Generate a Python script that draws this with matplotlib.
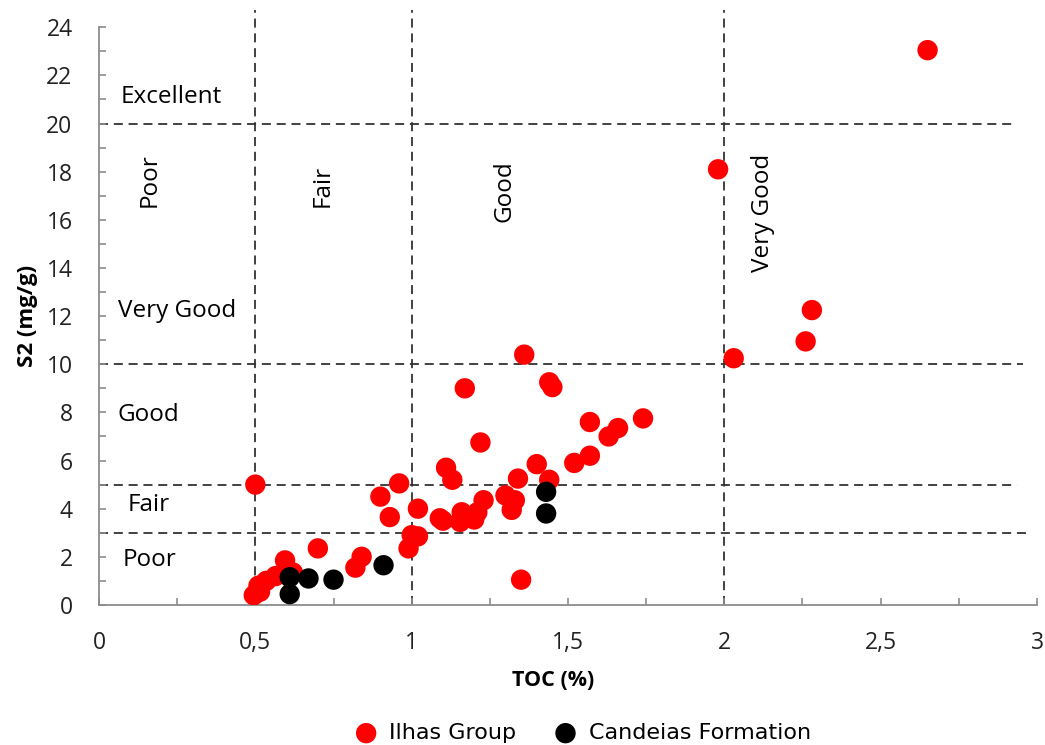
import matplotlib
matplotlib.use("Agg")
import matplotlib.pyplot as plt
from matplotlib.ticker import MultipleLocator

# ---------------- data ----------------
ilhas_toc = [2.65, 1.98, 2.28, 2.26, 2.03, 1.36, 1.17, 1.44, 1.45, 1.74,
             1.57, 1.66, 1.63, 1.22, 1.57, 1.52, 1.11, 1.40, 1.13, 1.34,
             1.44, 0.96, 0.50, 1.30, 1.33, 1.32, 1.23, 1.21, 1.20, 1.16,
             1.155, 1.09, 1.10, 0.90, 1.02, 0.93, 1.00, 1.02, 0.99, 0.70,
             0.84, 0.82, 1.35, 0.595, 0.60, 0.62, 0.565, 0.535, 0.51, 0.515,
             0.495]
ilhas_s2 = [23.05, 18.1, 12.25, 10.95, 10.25, 10.4, 9.0, 9.25, 9.05, 7.75,
            7.6, 7.35, 7.0, 6.75, 6.2, 5.9, 5.7, 5.85, 5.2, 5.25,
            5.2, 5.05, 5.0, 4.55, 4.35, 3.95, 4.35, 3.85, 3.55, 3.85,
            3.45, 3.6, 3.5, 4.5, 4.0, 3.65, 2.9, 2.85, 2.35, 2.35,
            2.0, 1.55, 1.05, 1.85, 1.5, 1.35, 1.2, 1.0, 0.8, 0.55,
            0.4]
candeias_toc = [0.61, 0.61, 0.67, 0.75, 0.91, 1.43, 1.43]
candeias_s2 = [1.15, 0.45, 1.1, 1.05, 1.65, 4.7, 3.8]

x_ticks = [0, 0.5, 1, 1.5, 2, 2.5, 3]
x_tick_labels = ["0", "0,5", "1", "1,5", "2", "2,5", "3"]
y_ticks = list(range(0, 25, 2))

toc_limits = [0.5, 1, 2]
s2_limits = [20, 10, 5, 3]
s2_limit_ends = [2.93, 2.955, 2.935, 2.975]
s2_classes = ["Excellent", "Very Good", "Good", "Fair", "Poor"]
s2_class_pos = [(0.07, 21.1), (0.06, 12.2), (0.058, 7.9), (0.09, 4.15), (0.075, 1.85)]
toc_classes = ["Poor", "Fair", "Good", "Very Good"]
toc_class_pos = [(0.163, 17.65), (0.716, 17.4), (1.298, 17.2), (2.123, 16.3)]

# ---------------- figure ----------------
W, H = 1045, 745
fig = plt.figure(figsize=(W / 100, H / 100), dpi=100)
ax = fig.add_axes([99 / W, 0.188, (1037 - 99) / W, 0.798])

LABFONT = "Open Sans"
ax.set_xlim(0, 3)
ax.set_ylim(0, 24.7)

dash = (0, (5, 3.2))
for xv in toc_limits:
    ax.plot([xv, xv], [0, 24.7], color="#333333", lw=1.3, ls=dash, zorder=1)
for yv, xe in zip(s2_limits, s2_limit_ends):
    ax.plot([0, xe], [yv, yv], color="#333333", lw=1.3, ls=dash, zorder=1)

ax.scatter(ilhas_toc, ilhas_s2, s=215, color="#ff0000", edgecolors="none",
           zorder=3, label="Ilhas Group")
ax.scatter(candeias_toc, candeias_s2, s=215, color="#000000", edgecolors="none",
           zorder=4, label="Candeias Formation")

for t, (xx, yy) in zip(s2_classes, s2_class_pos):
    ax.text(xx, yy, t, fontsize=17.5, family=LABFONT, ha="left", va="center")
for t, (xx, yy) in zip(toc_classes, toc_class_pos):
    ax.text(xx, yy, t, fontsize=17.5, family=LABFONT, ha="center", va="center",
            rotation=90)

# axes styling
for s in ["top", "right"]:
    ax.spines[s].set_visible(False)
for s in ["left", "bottom"]:
    ax.spines[s].set_color("#8c8c8c")
    ax.spines[s].set_linewidth(1.3)
ax.spines["left"].set_bounds(0, 24)

ax.set_xticks(x_ticks)
ax.set_xticklabels(x_tick_labels)
ax.set_yticks(y_ticks)
ax.xaxis.set_minor_locator(MultipleLocator(0.25))
ax.yaxis.set_minor_locator(MultipleLocator(1))
ax.tick_params(axis="both", which="both", direction="in", color="#8c8c8c",
               width=1.2, length=5, labelsize=16.5)
ax.tick_params(axis="x", which="major", pad=19)
ax.tick_params(axis="y", which="major", pad=19)
for lab in ax.get_xticklabels() + ax.get_yticklabels():
    lab.set_family(LABFONT)
    lab.set_color("#222222")

fig.text(553 / W, 1 - 680 / H, "TOC (%)", fontsize=15.5, family=LABFONT,
         fontweight="bold", ha="center", va="center")
fig.text(27 / W, 1 - 316 / H, "S2 (mg/g)", fontsize=16, family=LABFONT,
         fontweight="bold", ha="center", va="center", rotation=90)

fig.legend(loc="center", bbox_to_anchor=(583 / W, 1 - 733 / H), ncol=2,
           frameon=False, prop={"family": "DejaVu Sans", "size": 16},
           handletextpad=0.55, columnspacing=1.7, markerscale=1.0,
           handlelength=1.0, borderpad=0.1)

fig.savefig("out.png", dpi=100)
